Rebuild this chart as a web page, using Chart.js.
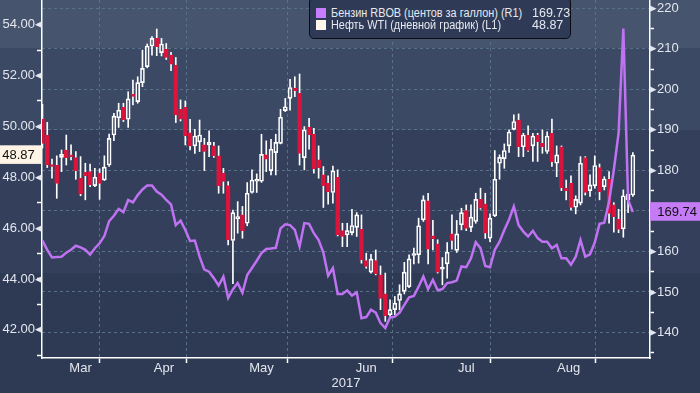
<!DOCTYPE html>
<html>
<head>
<meta charset="utf-8">
<script src="https://cdn.jsdelivr.net/npm/chart.js@4.4.1/dist/chart.umd.min.js"></script>
<style>
  body { margin: 0; }
  #wrap {
    position: relative; width: 700px; height: 393px; overflow: hidden;
    background: linear-gradient(to bottom, #46546e 0, #46546e 48px, #3c4964 48px, #3c4964 130px,
      #343f5b 130px, #343f5b 273px, #2e3953 273px, #2e3953 393px);
  }
  canvas { position: absolute; left: 0; top: 0; }
  #leyenda {
    position: absolute; left: 309px; top: -3px; width: 262px; height: 42px; box-sizing: border-box;
    background: #2f3b56; border: 1px solid #0b0c12; border-radius: 5px;
    font: 12.5px 'Liberation Sans', sans-serif; color: #e6e9f0;
  }
  .fila { position: absolute; left: 6px; width: 250px; height: 13px; }
  .cuadro { position: absolute; left: 0; top: 0; width: 10px; height: 10px; }
  .txt { position: absolute; left: 15px; top: -2px; white-space: nowrap; line-height: 14px;
    transform: scaleX(0.87); transform-origin: left center; }
  .val { position: absolute; left: 216px; top: -2px; white-space: nowrap; line-height: 14px; }
</style>
</head>
<body>
<div id="wrap">
  <canvas id="grafica" width="700" height="393"></canvas>
  <div id="leyenda">
    <div class="fila" style="top:10px"><span class="cuadro" style="background:#c77dff"></span><span class="txt">Бензин RBOB (центов за галлон) (R1)</span><span class="val">169.73</span></div>
    <div class="fila" style="top:22px"><span class="cuadro" style="background:#fff5ea"></span><span class="txt">Нефть WTI (дневной график) (L1)</span><span class="val">48.87</span></div>
  </div>
</div>
<script>
// Нефть WTI, свечи по торговым дням (индекс 0 = 10 марта)
const apertura = [50.29, 49.66, 48.48, 48.47, 48.78, 49.07, 48.84, 48.77, 47.97, 48.19,
  48.22, 47.67, 48.16, 47.89, 48.48, 49.66, 50.34, 50.75, 50.28, 51.24,
  50.97, 51.72, 52.35, 53.16, 53.46, 52.90, 53.03, 52.80, 52.41, 50.67,
  50.75, 49.75, 49.23, 49.39, 49.27, 49.27, 49.23, 48.84, 48.16, 47.67,
  45.51, 46.36, 46.52, 46.19, 47.40, 47.84, 47.84, 48.88, 48.26, 48.97,
  49.33, 50.62, 51.10, 51.51, 51.30, 48.77, 49.96, 49.70, 48.68, 48.09,
  47.76, 47.40, 48.00, 45.90, 45.73, 45.82, 46.03, 45.95, 44.72, 44.27,
  44.72, 44.16, 43.41, 42.59, 42.79, 43.15, 43.51, 43.70, 44.92, 44.95,
  46.32, 47.07, 45.69, 45.38, 44.38, 44.59, 45.77, 45.12, 46.13, 46.69,
  46.03, 46.26, 47.13, 46.95, 45.60, 46.48, 48.55, 48.73, 49.23, 49.88,
  50.25, 49.20, 49.66, 49.23, 49.66, 49.33, 49.01, 49.73, 48.55, 49.20,
  47.57, 47.76, 46.82, 46.98, 48.77, 47.47, 47.67, 48.38, 47.63, 47.92,
  46.91, 46.35, 45.97, 47.11, 47.30];
const maximo = [50.87, 50.16, 48.71, 48.84, 49.07, 49.66, 49.27, 49.01, 48.81, 48.55,
  48.52, 48.35, 48.33, 48.84, 49.70, 50.51, 50.91, 50.91, 51.36, 51.82,
  51.95, 53.00, 53.24, 53.53, 53.83, 53.46, 53.26, 52.91, 52.71, 51.04,
  51.00, 50.28, 49.88, 50.25, 49.53, 49.82, 49.37, 49.23, 48.35, 47.83,
  46.71, 47.04, 46.85, 47.79, 48.29, 48.13, 49.69, 49.43, 49.49, 49.69,
  50.67, 51.10, 51.85, 51.95, 52.06, 49.99, 50.32, 49.92, 49.23, 48.42,
  48.05, 48.44, 48.29, 46.19, 46.19, 46.74, 46.61, 46.52, 45.01, 44.97,
  45.14, 44.51, 44.23, 43.18, 43.31, 43.77, 44.65, 44.95, 45.21, 46.39,
  47.27, 47.37, 46.30, 45.54, 44.84, 45.43, 46.52, 46.30, 46.78, 46.91,
  46.91, 47.37, 47.57, 47.37, 46.56, 49.05, 48.88, 49.31, 49.86, 50.45,
  50.49, 49.73, 50.02, 49.73, 49.73, 49.86, 49.79, 50.29, 49.23, 49.23,
  47.89, 48.05, 47.27, 48.81, 48.81, 48.09, 48.84, 48.52, 48.02, 48.22,
  47.00, 46.74, 47.50, 47.50, 48.97];
const minimo = [49.14, 48.38, 47.96, 47.17, 48.22, 48.48, 48.68, 47.92, 47.27, 47.11,
  47.63, 47.63, 47.13, 47.87, 48.42, 49.44, 49.96, 50.19, 49.96, 50.84,
  50.91, 51.56, 52.30, 52.80, 52.78, 52.77, 52.63, 52.19, 50.15, 50.21,
  49.27, 49.07, 48.94, 49.01, 48.26, 48.81, 48.78, 47.37, 47.37, 45.34,
  43.81, 45.80, 45.60, 46.09, 47.37, 47.40, 47.80, 48.22, 48.09, 48.09,
  49.31, 50.58, 50.64, 51.17, 48.48, 48.29, 49.10, 48.16, 47.96, 46.81,
  46.94, 46.98, 45.69, 45.27, 45.27, 45.73, 45.67, 44.62, 44.42, 44.23,
  44.16, 42.79, 42.33, 42.46, 42.59, 42.79, 43.41, 43.66, 44.59, 44.62,
  46.26, 44.59, 45.14, 44.23, 43.77, 44.03, 45.17, 45.04, 45.93, 45.90,
  45.86, 46.19, 46.74, 45.59, 45.47, 46.45, 47.92, 48.35, 48.98, 49.86,
  48.81, 48.81, 49.01, 48.62, 48.62, 48.94, 48.94, 48.42, 48.02, 47.47,
  47.11, 46.71, 46.56, 46.91, 47.30, 47.24, 47.57, 47.11, 47.50, 46.19,
  45.84, 45.82, 45.64, 46.61, 47.24];
const cierre = [49.33, 48.48, 48.42, 47.76, 48.90, 48.77, 48.80, 48.26, 47.34, 48.06,
  47.70, 48.00, 47.76, 48.40, 49.53, 50.40, 50.64, 50.25, 51.08, 51.18,
  51.72, 52.28, 53.16, 53.46, 53.13, 53.24, 52.71, 52.45, 50.45, 50.28,
  49.63, 49.23, 49.62, 49.66, 49.01, 49.37, 48.84, 47.67, 47.83, 45.54,
  46.61, 46.45, 45.90, 47.37, 47.89, 47.89, 48.90, 48.71, 49.10, 49.37,
  50.36, 50.77, 51.53, 51.40, 48.94, 49.86, 49.66, 48.33, 48.38, 47.67,
  47.43, 48.25, 45.73, 45.67, 45.90, 46.10, 46.52, 44.75, 44.49, 44.78,
  44.20, 43.23, 42.55, 42.79, 43.05, 43.41, 44.27, 44.79, 44.97, 46.09,
  47.11, 45.17, 45.58, 44.27, 44.42, 45.05, 45.51, 45.77, 46.61, 45.99,
  46.43, 47.13, 46.78, 45.80, 46.39, 47.92, 48.78, 49.05, 49.78, 50.19,
  49.20, 49.66, 49.05, 49.62, 49.40, 49.20, 49.62, 48.61, 48.88, 47.59,
  47.47, 46.81, 47.13, 48.55, 47.40, 47.70, 48.46, 47.43, 47.93, 46.58,
  46.45, 45.95, 47.27, 47.34, 48.87];

// Бензин RBOB, центов за галлон
const gasolina = [162.7, 160.4, 158.5, 158.6, 158.7, 159.7, 160.4, 161.4, 161.0, 160.4,
  159.2, 160.8, 162.0, 163.8, 167.5, 168.8, 170.5, 169.7, 172.7, 172.1,
  173.9, 175.3, 176.3, 176.3, 174.8, 174.0, 172.7, 171.6, 166.5, 167.6,
  165.3, 162.6, 162.7, 158.7, 155.5, 155.0, 153.4, 151.6, 153.8, 148.5,
  150.7, 152.2, 149.8, 154.2, 155.9, 157.7, 159.6, 160.6, 160.7, 160.9,
  165.7, 166.7, 166.5, 165.3, 161.2, 167.0, 166.8, 164.5, 162.8, 159.7,
  154.0, 155.9, 149.5, 149.5, 150.4, 149.1, 149.9, 143.5, 143.8, 145.6,
  144.9, 142.3, 141.1, 143.7, 143.9, 144.9, 146.8, 148.7, 149.0, 151.3,
  153.8, 150.7, 153.0, 150.4, 150.7, 152.2, 152.4, 152.8, 156.3, 156.1,
  158.3, 162.3, 160.8, 156.4, 156.1, 160.4, 162.4, 165.3, 167.9, 171.1,
  166.5, 164.9, 163.7, 165.1, 163.3, 162.4, 162.4, 160.8, 161.6, 158.3,
  158.3, 156.7, 158.7, 162.8, 158.7, 159.3, 162.2, 166.8, 167.1, 172.3,
  180.1, 189.2, 215.0, 172.7, 169.74];

const meses = ['Mar', 'Apr', 'May', 'Jun', 'Jul', 'Aug'];
const mesesCentro = [8, 25.5, 46, 68, 89, 110.5];   // posición de la etiqueta
const mesesInicio = [16, 35, 57, 79, 99, 122];      // primer día de cada mes
const ticksWti = [41, 42, 43, 44, 45, 46, 47, 48, 49, 50, 51, 52, 53, 54];
const ticksRbob = [135, 140, 145, 150, 155, 160, 165, 170, 175, 180, 185, 190, 195, 200, 205, 210, 215, 220];
const ultimoWti = 48.87;
const ultimoRbob = 169.74;

const rojo = '#dc143c';
const blanco = '#ffffff';
const morado = '#bf72f2';
const colorTexto = '#e2e6ee';
const colorRejilla = '#587088';
const fuente = { family: "'Liberation Sans', Arial, sans-serif", size: 13 };

const dias = cierre.map((c, i) => i);
const sube = dias.map(i => cierre[i] >= apertura[i]);
const cuerpos = dias.map(i => ({ x: i, y: [Math.min(apertura[i], cierre[i]), Math.max(apertura[i], cierre[i])] }));
const mechaAlta = dias.map(i => ({ x: i, y: [Math.max(apertura[i], cierre[i]), maximo[i]] }));
const mechaBaja = dias.map(i => ({ x: i, y: [minimo[i], Math.min(apertura[i], cierre[i])] }));

const ctx = document.getElementById('grafica').getContext('2d');

new Chart(ctx, {
    type: 'bar',
    data: {
        datasets: [
            {
                type: 'line',
                label: 'Бензин RBOB (центов за галлон) (R1)',
                data: gasolina.map((v, i) => ({ x: i, y: v })),
                yAxisID: 'y1',
                borderColor: morado,
                borderWidth: 2.5,
                pointRadius: 0,
                tension: 0,
                order: 0
            },
            {
                label: 'Нефть WTI (дневной график) (L1)',
                data: cuerpos,
                yAxisID: 'y',
                backgroundColor: sube.map(s => s ? 'rgba(0,0,0,0)' : rojo),
                borderColor: sube.map(s => s ? blanco : rojo),
                borderWidth: 1,
                borderSkipped: false,
                barThickness: 4,
                minBarLength: 2,
                grouped: false,
                order: 1
            },
            {
                data: mechaAlta,
                yAxisID: 'y',
                backgroundColor: blanco,
                barThickness: 1,
                grouped: false,
                order: 2
            },
            {
                data: mechaBaja,
                yAxisID: 'y',
                backgroundColor: blanco,
                barThickness: 1,
                grouped: false,
                order: 2
            }
        ]
    },
    options: {
        responsive: false,
        animation: false,
        layout: { padding: 0 },
        plugins: { legend: { display: false }, tooltip: { enabled: false } },
        scales: {
            x: {
                type: 'linear',
                position: 'bottom',
                min: -0.1,
                max: 127.6,
                offset: false,
                afterBuildTicks: s => {
                    s.ticks = mesesInicio.concat(mesesCentro).sort((a, b) => a - b).map(v => ({ value: v }));
                },
                afterFit: s => { s.height = 35; s.paddingLeft = 0; s.paddingRight = 0; },
                ticks: {
                    autoSkip: false, maxRotation: 0, padding: -2, color: colorTexto, font: fuente,
                    callback: v => { const k = mesesCentro.indexOf(v); return k >= 0 ? meses[k] : ''; }
                },
                grid: {
                    color: c => c.tick && mesesInicio.includes(c.tick.value) ? colorRejilla : 'rgba(0,0,0,0)',
                    tickColor: c => c.tick && mesesInicio.includes(c.tick.value) ? blanco : 'rgba(0,0,0,0)',
                    tickLength: 5, tickWidth: 1.5, tickBorderDash: []
                },
                border: { color: blanco, width: 1.5, dash: [3, 3] },
                title: { display: true, text: '2017', color: colorTexto, font: fuente, padding: 2 }
            },
            y: {
                position: 'left',
                min: 40.89,
                max: 54.97,
                afterBuildTicks: s => {
                    s.ticks = ticksWti.map(v => ({ value: v })).concat([{ value: ultimoWti }]);
                },
                afterFit: s => { s.width = 42; s.paddingTop = 0; s.paddingBottom = 0; },
                ticks: {
                    autoSkip: false, padding: -5, font: fuente,
                    color: c => c.tick.value === ultimoWti ? '#111111' : colorTexto,
                    callback: v => v === ultimoWti ? v.toFixed(2) + '  ' : (v % 2 === 0 ? v.toFixed(2) + '◂' : ''),
                    showLabelBackdrop: c => c.tick.value === ultimoWti,
                    backdropColor: '#fff4e6',
                    backdropPadding: { top: 2, bottom: 1, left: 3, right: 0 }
                },
                grid: {
                    drawOnChartArea: false,
                    tickLength: 5, tickWidth: 1.5,
                    tickColor: c => c.tick && c.tick.value !== ultimoWti ? blanco : 'rgba(0,0,0,0)'
                },
                border: { color: blanco, width: 1.5 }
            },
            y1: {
                position: 'right',
                min: 133.7,
                max: 222.05,
                afterBuildTicks: s => {
                    s.ticks = ticksRbob.map(v => ({ value: v })).concat([{ value: ultimoRbob }]);
                },
                afterFit: s => { s.width = 50; s.paddingTop = 0; s.paddingBottom = 0; },
                ticks: {
                    autoSkip: false, padding: -4, font: fuente,
                    color: c => c.tick.value === ultimoRbob ? '#111111' : colorTexto,
                    callback: v => v === ultimoRbob ? '  ' + v.toFixed(2) : (v % 10 === 0 && v !== 170 ? '▸' + v : ''),
                    showLabelBackdrop: c => c.tick.value === ultimoRbob,
                    backdropColor: '#c47bf5',
                    backdropPadding: { top: 2, bottom: 1, left: 0, right: 4 }
                },
                grid: {
                    color: c => c.tick && c.tick.value % 10 === 0 ? colorRejilla : 'rgba(0,0,0,0)',
                    tickColor: c => c.tick && c.tick.value !== ultimoRbob ? blanco : 'rgba(0,0,0,0)',
                    tickLength: 4, tickWidth: 1.5, tickBorderDash: []
                },
                border: { color: blanco, width: 1.5, dash: [3, 3] }
            }
        }
    }
});
</script>
</body>
</html>
